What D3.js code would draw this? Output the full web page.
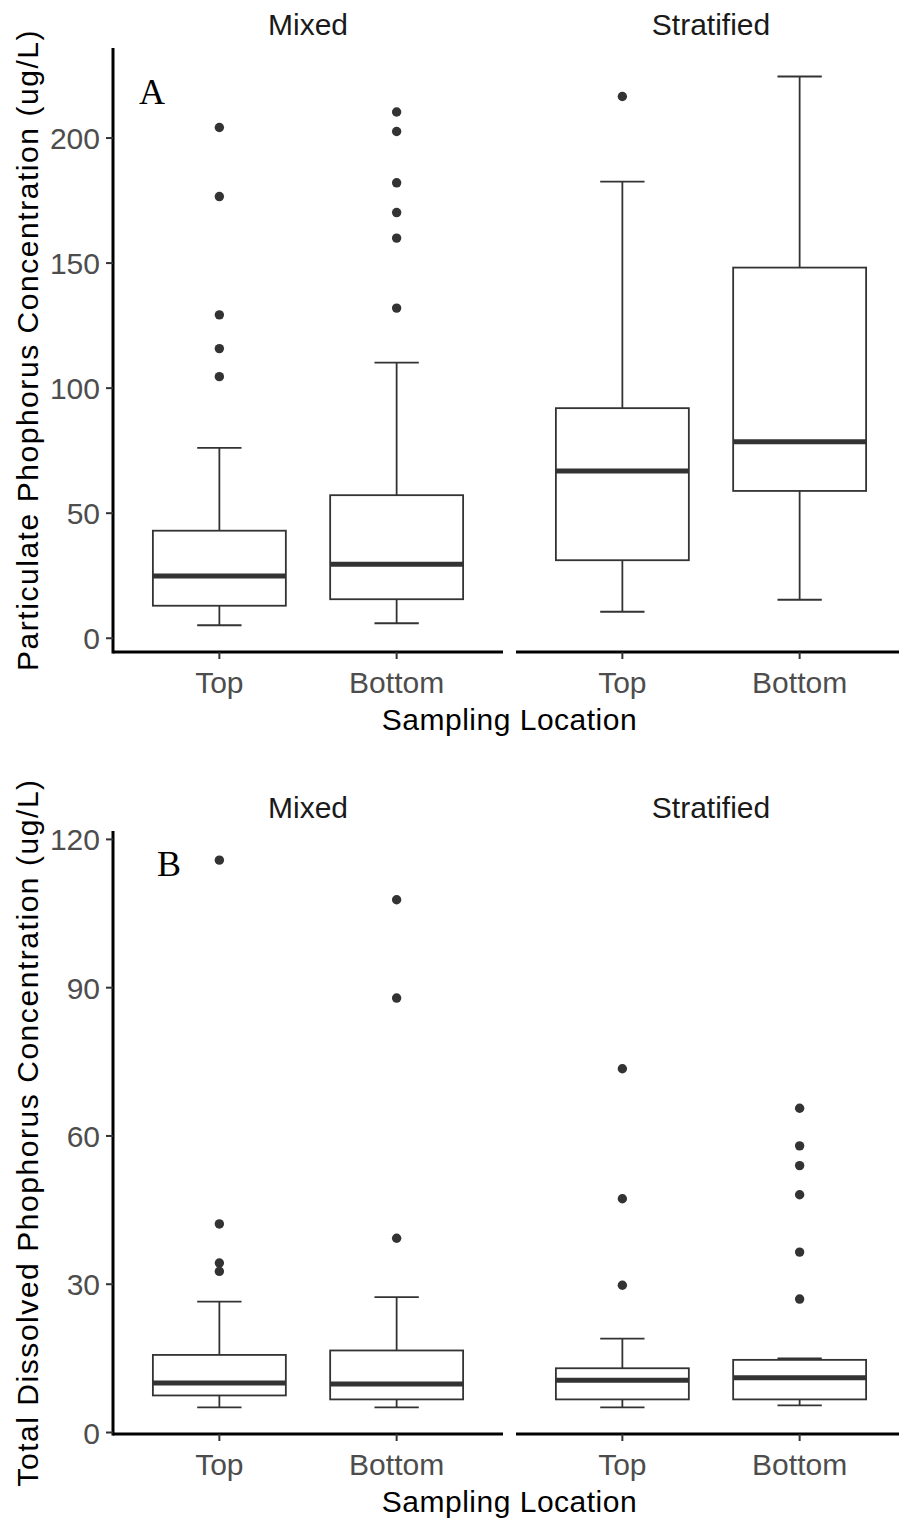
<!DOCTYPE html>
<html>
<head>
<meta charset="utf-8">
<script src="https://cdn.jsdelivr.net/npm/d3@7"></script>
<style>
  body { margin: 0; background: #fff; }
  text { font-family: "Liberation Sans", Arial, sans-serif; }
  text.letter { font-family: "Liberation Serif", "Times New Roman", serif; }
</style>
</head>
<body>
<div id="chart"></div>
<script>
const facets = ["Mixed", "Stratified"];
const locations = ["Top", "Bottom"];

// Panel A - particulate P
// [lower whisker, q1, median, q3, upper whisker], order: Mixed Top, Mixed Bottom, Stratified Top, Stratified Bottom
const statsA = [
    [5.2, 13.0, 24.9, 43.0, 76.1],
    [6.0, 15.6, 29.6, 57.2, 110.2],
    [10.6, 31.2, 66.9, 92.0, 182.6],
    [15.4, 58.9, 78.6, 148.2, 224.6]
];
const outliersA = [
    [104.6, 115.8, 129.3, 176.6, 204.2],
    [132.0, 160.0, 170.2, 182.1, 202.6, 210.4],
    [216.6],
    []
];
const ticksA = [0, 50, 100, 150, 200];

// Panel B - total dissolved P
const statsB = [
    [5.1, 7.5, 10.0, 15.7, 26.5],
    [5.1, 6.7, 9.8, 16.6, 27.4],
    [5.1, 6.7, 10.6, 13.0, 19.0],
    [5.5, 6.7, 11.1, 14.7, 15.0]
];
const outliersB = [
    [32.6, 34.3, 42.2, 115.8],
    [39.3, 87.9, 107.8],
    [29.8, 47.3, 73.6],
    [27.0, 36.5, 48.1, 54.0, 58.0, 65.6]
];
const ticksB = [0, 30, 60, 90, 120];

const width = 899;
const height = 1521;

const svg = d3.select("#chart")
    .append("svg")
    .attr("width", width)
    .attr("height", height);

const facetLeft = [113, 516];
const facetWidth = 390;
const ink = "#333333";

function drawPanel(p) {
    const y = d3.scaleLinear()
        .domain(p.domain)
        .range([p.bottom, p.top]);

    const g = svg.append("g");

    // y axis (left facet only)
    g.append("line")
        .attr("x1", facetLeft[0]).attr("x2", facetLeft[0])
        .attr("y1", p.top).attr("y2", p.bottom + 1.5)
        .attr("stroke", "black")
        .attr("stroke-width", 3);

    g.selectAll(".ytick")
        .data(p.ticks)
        .enter()
        .append("line")
        .attr("x1", facetLeft[0] - 7).attr("x2", facetLeft[0])
        .attr("y1", d => y(d)).attr("y2", d => y(d))
        .attr("stroke", ink)
        .attr("stroke-width", 2);

    g.selectAll(".ylab")
        .data(p.ticks)
        .enter()
        .append("text")
        .attr("x", 100)
        .attr("y", d => y(d) + 11)
        .attr("text-anchor", "end")
        .attr("font-size", 30)
        .attr("fill", "#4d4d4d")
        .text(d => d);

    g.append("text")
        .attr("transform", `translate(38,${(p.top + p.bottom) / 2}) rotate(-90)`)
        .attr("text-anchor", "middle")
        .attr("font-size", 30)
        .attr("letter-spacing", 1.55)
        .attr("fill", "black")
        .text(p.title);

    facets.forEach(function(facet, f) {
        const x = d3.scalePoint()
            .domain(locations)
            .range([facetLeft[f], facetLeft[f] + facetWidth])
            .padding(0.6);
        const step = x.step();
        const boxW = step * 0.75;
        const capW = step * 0.25;

        // strip label
        g.append("text")
            .attr("x", facetLeft[f] + facetWidth / 2)
            .attr("y", p.top - 13)
            .attr("text-anchor", "middle")
            .attr("font-size", 30)
            .attr("fill", "#1a1a1a")
            .text(facet);

        // x axis
        g.append("line")
            .attr("x1", facetLeft[f]).attr("x2", facetLeft[f] + facetWidth)
            .attr("y1", p.bottom).attr("y2", p.bottom)
            .attr("stroke", "black")
            .attr("stroke-width", 3);

        locations.forEach(function(loc, i) {
            const s = p.stats[f * 2 + i];
            const cx = x(loc);

            g.append("line")
                .attr("x1", cx).attr("x2", cx)
                .attr("y1", p.bottom).attr("y2", p.bottom + 7)
                .attr("stroke", ink)
                .attr("stroke-width", 2);

            g.append("text")
                .attr("x", cx)
                .attr("y", p.bottom + 41)
                .attr("text-anchor", "middle")
                .attr("font-size", 30)
                .attr("fill", "#4d4d4d")
                .text(loc);

            // whiskers + caps
            g.append("line")
                .attr("x1", cx).attr("x2", cx)
                .attr("y1", y(s[0])).attr("y2", y(s[1]))
                .attr("stroke", ink).attr("stroke-width", 1.8);
            g.append("line")
                .attr("x1", cx).attr("x2", cx)
                .attr("y1", y(s[3])).attr("y2", y(s[4]))
                .attr("stroke", ink).attr("stroke-width", 1.8);
            [s[0], s[4]].forEach(function(v) {
                g.append("line")
                    .attr("x1", cx - capW / 2).attr("x2", cx + capW / 2)
                    .attr("y1", y(v)).attr("y2", y(v))
                    .attr("stroke", ink).attr("stroke-width", 1.8);
            });

            // box
            g.append("rect")
                .attr("x", cx - boxW / 2)
                .attr("y", y(s[3]))
                .attr("width", boxW)
                .attr("height", y(s[1]) - y(s[3]))
                .attr("fill", "white")
                .attr("stroke", ink)
                .attr("stroke-width", 1.8);

            g.append("line")
                .attr("x1", cx - boxW / 2).attr("x2", cx + boxW / 2)
                .attr("y1", y(s[2])).attr("y2", y(s[2]))
                .attr("stroke", ink)
                .attr("stroke-width", 5);

            g.selectAll(null)
                .data(p.outliers[f * 2 + i])
                .enter()
                .append("circle")
                .attr("cx", cx)
                .attr("cy", d => y(d))
                .attr("r", 4.7)
                .attr("fill", ink);
        });
    });

    g.append("text")
        .attr("x", (facetLeft[0] + facetLeft[1] + facetWidth) / 2)
        .attr("y", p.bottom + 78)
        .attr("text-anchor", "middle")
        .attr("font-size", 30)
        .attr("letter-spacing", 0.5)
        .attr("fill", "black")
        .text("Sampling Location");

    // panel letter
    g.append("text")
        .attr("class", "letter")
        .attr("x", p.letterX)
        .attr("y", p.letterY)
        .attr("font-size", 36)
        .attr("fill", "black")
        .text(p.letter);
}

drawPanel({
    stats: statsA, outliers: outliersA, ticks: ticksA,
    domain: [-5.5, 236], top: 48, bottom: 652,
    title: "Particulate Phophorus Concentration (ug/L)",
    letter: "A", letterX: 139, letterY: 104
});

drawPanel({
    stats: statsB, outliers: outliersB, ticks: ticksB,
    domain: [-0.3, 121.7], top: 831, bottom: 1434,
    title: "Total Dissolved Phophorus Concentration (ug/L)",
    letter: "B", letterX: 157, letterY: 876
});
</script>
</body>
</html>
